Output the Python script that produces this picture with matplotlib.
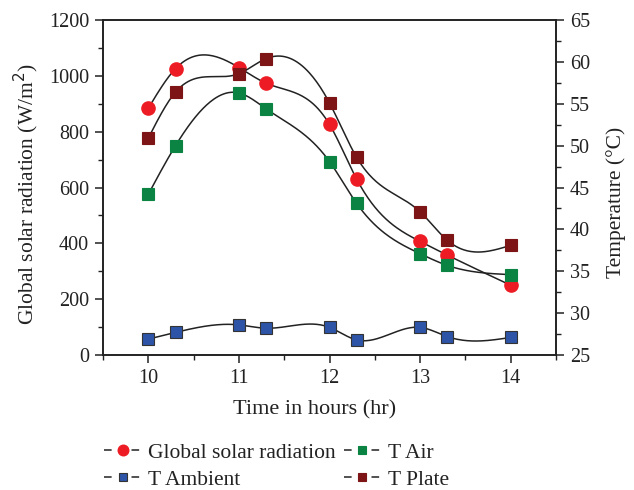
import numpy as np
import matplotlib
matplotlib.use('Agg')
import matplotlib.pyplot as plt
from matplotlib.ticker import MultipleLocator

plt.rcParams['font.family'] = ['Liberation Serif', 'DejaVu Serif']

# time of measurement (hours)
hours = [10, 10.3, 11, 11.3, 12, 12.3, 13, 13.3, 14]
# global solar radiation (W/m2)
radiation = [884, 1026, 1030, 974, 826, 630, 407, 358, 250]
# temperatures (deg C)
t_air = [44.2, 50.0, 56.3, 54.4, 48.1, 43.1, 37.1, 35.7, 34.6]
t_plate = [50.9, 56.4, 58.6, 60.4, 55.1, 48.6, 42.1, 38.7, 38.1]
t_ambient = [26.9, 27.7, 28.6, 28.2, 28.3, 26.8, 28.3, 27.2, 27.1]


def natural_spline(x, y, n=300):
    """natural cubic spline through the points, for the smooth connecting line"""
    x = np.asarray(x, float)
    y = np.asarray(y, float)
    k = len(x)
    h = np.diff(x)
    A = np.zeros((k, k))
    b = np.zeros(k)
    A[0, 0] = A[-1, -1] = 1.0
    for i in range(1, k - 1):
        A[i, i - 1] = h[i - 1]
        A[i, i] = 2 * (h[i - 1] + h[i])
        A[i, i + 1] = h[i]
        b[i] = 6 * ((y[i + 1] - y[i]) / h[i] - (y[i] - y[i - 1]) / h[i - 1])
    M = np.linalg.solve(A, b)
    xs = np.linspace(x[0], x[-1], n)
    idx = np.clip(np.searchsorted(x, xs) - 1, 0, k - 2)
    x0, x1 = x[idx], x[idx + 1]
    hh = x1 - x0
    ys = (M[idx] * (x1 - xs) ** 3 / (6 * hh) + M[idx + 1] * (xs - x0) ** 3 / (6 * hh)
          + (y[idx] / hh - M[idx] * hh / 6) * (x1 - xs)
          + (y[idx + 1] / hh - M[idx + 1] * hh / 6) * (xs - x0))
    return xs, ys


fig = plt.figure(figsize=(6.34, 4.9), dpi=100)
ax1 = fig.add_axes([0.1625, 0.2755, 0.877 - 0.1625, 0.959 - 0.2755])
ax2 = ax1.twinx()

c_rad = '#ED1C24'
c_air = '#0B8443'
c_plate = '#7D1416'
c_amb = '#2D54A6'
ink = '#222222'

xs, ys = natural_spline(hours, radiation)
ax1.plot(xs, ys, color=ink, lw=1.1, zorder=2)
h_rad, = ax1.plot(hours, radiation, 'o', color=c_rad, ms=9.5, mec=c_rad, zorder=3,
                  label='Global solar radiation')

series = [
    (t_ambient, c_amb, '#333333', 'T Ambient'),
    (t_air, c_air, c_air, 'T Air'),
    (t_plate, c_plate, c_plate, 'T Plate'),
]
handles = {}
for vals, col, ec, name in series:
    xs, ys = natural_spline(hours, vals)
    ax2.plot(xs, ys, color=ink, lw=1.1, zorder=2)
    h, = ax2.plot(hours, vals, 's', color=col, ms=8, mec=ec, mew=0.8, zorder=3, label=name)
    handles[name] = h

ax1.set_xlim(9.5, 14.5)
ax1.set_ylim(0, 1200)
ax2.set_ylim(25, 65)
ax1.xaxis.set_major_locator(MultipleLocator(1))
ax1.xaxis.set_minor_locator(MultipleLocator(0.5))
ax1.yaxis.set_major_locator(MultipleLocator(200))
ax1.yaxis.set_minor_locator(MultipleLocator(100))
ax2.yaxis.set_major_locator(MultipleLocator(5))
ax2.yaxis.set_minor_locator(MultipleLocator(2.5))

for ax in (ax1, ax2):
    for sp in ax.spines.values():
        sp.set_linewidth(1.2)
        sp.set_color(ink)
    ax.tick_params(which='major', direction='out', length=6, width=1.1, labelsize=14.5,
                   color=ink, labelcolor=ink, pad=4)
    ax.tick_params(which='minor', direction='out', length=3.5, width=1.0, color=ink)

ax1.set_xlabel('Time in hours (hr)', fontsize=16, color=ink)
ax1.set_ylabel('Global solar radiation (W/m$^2$)', fontsize=15.5, color=ink)
ax2.set_ylabel('Temperature (°C)', fontsize=15.5, color=ink)
ax1.xaxis.set_label_coords(0.467, -0.135)
ax1.yaxis.set_label_coords(-0.137, 0.48)
ax2.yaxis.set_label_coords(1.111, 0.457)

leg_handles = [h_rad, handles['T Ambient'], handles['T Air'], handles['T Plate']]
leg = fig.legend(leg_handles, [h.get_label() for h in leg_handles],
                 loc='upper left', bbox_to_anchor=(0.134, 0.136), ncol=2,
                 frameon=False, fontsize=15.5, handlelength=1.75, handletextpad=0.3,
                 columnspacing=0.35, labelspacing=0.33, markerscale=0.8)
for lh, h in zip(leg.legend_handles, leg_handles):
    lh.set_color(ink)
    lh.set_linewidth(1.1)
    lh.set_linestyle((0, (5, 13, 5, 40)))
    lh.set_markerfacecolor(h.get_markerfacecolor())
    lh.set_markeredgecolor(h.get_markeredgecolor())
for t in leg.get_texts():
    t.set_color(ink)

fig.savefig('out.png', dpi=100)
